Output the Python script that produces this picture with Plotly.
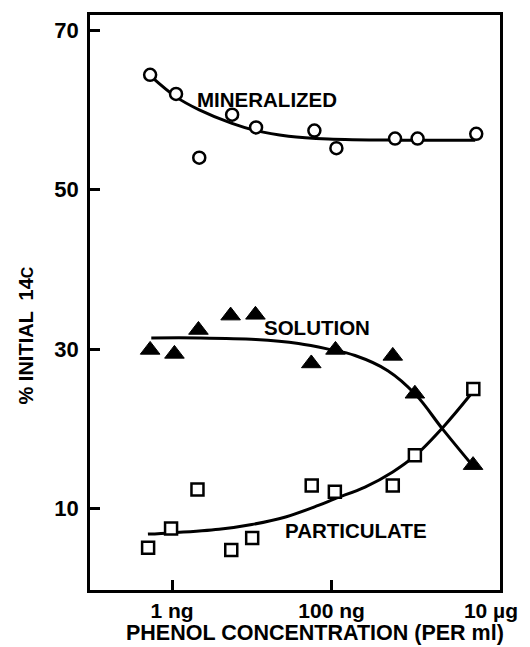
import plotly.graph_objects as go

# ---- data (concentration in ng per ml, value in % initial 14C)
conc_min = [0.53, 1.12, 2.19, 5.66, 11.3, 60.9, 115, 626, 1200, 6530]
mineralized = [64.4, 62.0, 54.0, 59.4, 57.8, 57.4, 55.2, 56.4, 56.4, 57.0]

conc_sol = [0.53, 1.07, 2.14, 5.42, 11.1, 55.7, 112, 586, 1110, 5960]
solution = [29.9, 29.4, 32.4, 34.2, 34.3, 28.2, 29.9, 29.15, 24.4, 15.45]

conc_part = [0.50, 0.97, 2.08, 5.52, 10.1, 56.4, 110, 586, 1110, 6000]
particulate = [5.1, 7.5, 12.4, 4.8, 6.3, 12.9, 12.1, 12.9, 16.7, 25.0]

# fitted curves
fit_min_x = [0.53, 1.13, 2.19, 5.64, 11.2, 28.9, 91, 677, 6350]
fit_min_y = [64.3, 61.6, 60.0, 58.3, 57.4, 56.7, 56.35, 56.2, 56.2]

fit_sol_x = [0.548, 2.19, 11.2, 38.5, 91, 197, 508, 1135, 2460, 5985]
fit_sol_y = [31.4, 31.4, 31.2, 30.7, 30.0, 29.2, 27.3, 24.3, 20.0, 15.3]

fit_part_x = [0.497, 0.98, 3.88, 10.0, 26.5, 68.3, 111, 263, 586, 1135, 2606, 5650]
fit_part_y = [6.8, 6.95, 7.4, 8.0, 8.95, 10.4, 11.25, 12.7, 14.6, 16.7, 20.4, 24.4]

tick_vals = [1, 100, 10000]
tick_text = ["1 ng", "100 ng", "10 µg"]
mark_ticks = [1, 100]
y_ticks = [10, 30, 50, 70]

FONT = "Liberation Sans"
BLACK = "black"

fig = go.Figure()

for fx, fy in [(fit_min_x, fit_min_y), (fit_sol_x, fit_sol_y), (fit_part_x, fit_part_y)]:
    fig.add_trace(go.Scatter(x=fx, y=fy, mode="lines", line=dict(color=BLACK, width=3, shape="spline", smoothing=1.0),
                             showlegend=False, hoverinfo="skip"))

fig.add_trace(go.Scatter(x=conc_min, y=mineralized, mode="markers", name="MINERALIZED",
                         marker=dict(symbol="circle", size=12, color="white", line=dict(color=BLACK, width=2.5)),
                         showlegend=False))
fig.add_trace(go.Scatter(x=conc_sol, y=solution, mode="markers", name="SOLUTION",
                         marker=dict(symbol="triangle-up", size=17, color=BLACK, line=dict(color=BLACK, width=1)),
                         showlegend=False))
fig.add_trace(go.Scatter(x=conc_part, y=particulate, mode="markers", name="PARTICULATE",
                         marker=dict(symbol="square", size=12, color="white", line=dict(color=BLACK, width=2.5)),
                         showlegend=False))
# empty trace so the overlay axis carrying tick marks is drawn
fig.add_trace(go.Scatter(x=[None], y=[None], xaxis="x2", showlegend=False, hoverinfo="skip"))

xr = [-1.03, 4.113]
fig.update_layout(
    width=530, height=647,
    margin=dict(l=90, r=27, t=13, b=57),
    paper_bgcolor="white", plot_bgcolor="white",
    font=dict(family=FONT, size=21, color=BLACK, weight="bold"),
    xaxis=dict(type="log", range=xr, tickmode="array", tickvals=tick_vals, ticktext=tick_text,
               ticks="", showgrid=False, zeroline=False, showline=True, mirror=True,
               linecolor=BLACK, linewidth=2.5, ticklabelstandoff=0,
               tickfont=dict(family=FONT, size=21, color=BLACK, weight="bold")),
    xaxis2=dict(type="log", range=xr, overlaying="x", anchor="y", side="bottom",
                tickmode="array", tickvals=mark_ticks, showticklabels=False,
                ticks="inside", ticklen=10, tickwidth=2.5, tickcolor=BLACK,
                showgrid=False, zeroline=False, showline=False),
    yaxis=dict(range=[-0.21, 71.9], tickmode="array", tickvals=y_ticks,
               ticks="inside", ticklen=10, tickwidth=2.5, tickcolor=BLACK,
               showgrid=False, zeroline=False, showline=True, mirror=True,
               linecolor=BLACK, linewidth=2.5, ticklabelstandoff=4,
               tickfont=dict(family=FONT, size=22, color=BLACK, weight="bold")),
    annotations=[
        dict(x=1.187, y=61.3, xref="x", yref="y", text="MINERALIZED", showarrow=False,
             font=dict(family=FONT, size=20.5, weight="bold")),
        dict(x=1.822, y=32.7, xref="x", yref="y", text="SOLUTION", showarrow=False,
             font=dict(family=FONT, size=20.5, weight="bold")),
        dict(x=2.311, y=7.3, xref="x", yref="y", text="PARTICULATE", showarrow=False,
             font=dict(family=FONT, size=20.5, weight="bold")),
        dict(x=0.5496, y=-0.0745, xref="paper", yref="paper", text="PHENOL CONCENTRATION (PER ml)",
             showarrow=False, xanchor="center", yanchor="middle",
             font=dict(family=FONT, size=21.5, weight="bold")),
        dict(x=-0.157, y=0.442, xref="paper", yref="paper",
             text="% INITIAL  14<span style='font-size:16px'>C</span>",
             showarrow=False, textangle=-90, xanchor="center", yanchor="middle",
             font=dict(family=FONT, size=20, weight="bold")),
    ],
)

fig.write_html("out.html")
